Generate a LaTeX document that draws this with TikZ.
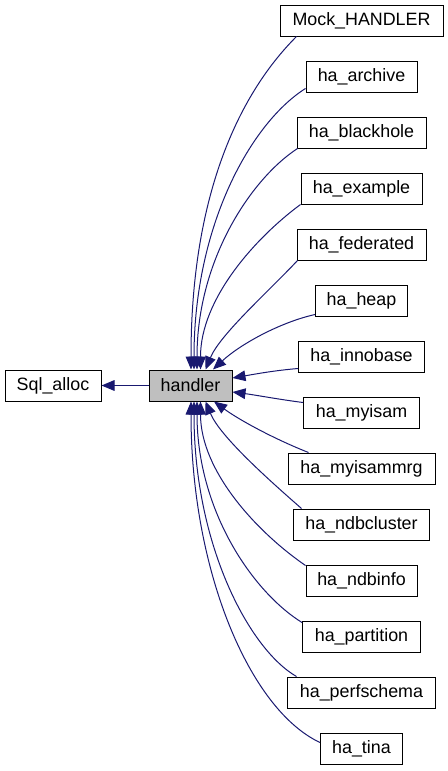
\documentclass[tikz,border=0pt]{standalone}
\usepackage{fontspec}
\setmainfont{Liberation Sans}
\usetikzlibrary{arrows.meta,calc}
\definecolor{edgeblue}{RGB}{25,25,112}
\definecolor{mainfill}{RGB}{191,191,191}
\tikzset{
  cls/.style={draw=black, line width=0.75pt, minimum height=23.25pt, inner sep=0pt,
    font=\fontsize{13.4}{16}\selectfont},
  mainbox/.style={cls, fill=mainfill},
  inh/.style={draw=edgeblue, line width=0.75pt,
    -{Triangle[length=9.75pt, width=8pt]}, fill=none},
  inhtip/.style={},
}
\begin{document}
\begin{tikzpicture}[x=0.75pt,y=-0.75pt]
\useasboundingbox (0,0) rectangle (448,771);
% main nodes
\node[cls, minimum width=72pt] (sql) at (53,385.5) {Sql\_alloc};
\node[mainbox, minimum width=62.25pt] (handler) at (190.5,385.5) {handler};
% derived classes
\node[cls, minimum width=122.25pt] (mock) at (361.5,20.5) {Mock\_HANDLER};
\node[cls, minimum width=83.25pt] (archive) at (361.5,76.5) {ha\_archive};
\node[cls, minimum width=96.75pt] (blackhole) at (361.5,132.5) {ha\_blackhole};
\node[cls, minimum width=90.75pt] (example) at (361.5,188.5) {ha\_example};
\node[cls, minimum width=96.75pt] (federated) at (361.5,244.5) {ha\_federated};
\node[cls, minimum width=69pt] (heap) at (361.5,300.5) {ha\_heap};
\node[cls, minimum width=94.5pt] (innobase) at (361.5,356.5) {ha\_innobase};
\node[cls, minimum width=87pt] (myisam) at (361.5,412.5) {ha\_myisam};
\node[cls, minimum width=110.25pt] (myisammrg) at (361.5,468.5) {ha\_myisammrg};
\node[cls, minimum width=102pt] (ndbcluster) at (361.5,524.5) {ha\_ndbcluster};
\node[cls, minimum width=83.25pt] (ndbinfo) at (361.5,580.5) {ha\_ndbinfo};
\node[cls, minimum width=88.5pt] (partition) at (361.5,636.5) {ha\_partition};
\node[cls, minimum width=111pt] (perfschema) at (361.5,692.5) {ha\_perfschema};
\node[cls, minimum width=61.5pt] (tina) at (361.5,748.5) {ha\_tina};
% edges
\draw[inh] (handler.west) -- (sql.east);
\draw[inh] ($(mock.south west)+(17,0)$) .. controls +(-60,60) and +(0,-170) .. ($(handler.north)+(0.5,0)$);
\draw[inh] ($(archive.south west)+(0,-4)$) .. controls +(-54,34) and +(0,-145) .. ($(handler.north)+(3.5,0)$);
\draw[inh] ($(blackhole.south west)+(1,0)$) .. controls +(-46,30) and +(0,-110) .. ($(handler.north)+(6.5,0)$);
\draw[inh] ($(example.south west)+(0,0)$) .. controls +(-46,34) and +(0,-70) .. ($(handler.north)+(10,0)$);
\draw[inh] ($(federated.south west)+(1,0)$) .. controls +(-28,30) and +(14.5,-35) .. ($(handler.north)+(15,0)$);
\draw[inh] ($(heap.south west)+(0,-2)$) .. controls +(-35.5,8) and +(27,-25) .. ($(handler.north)+(22.5,0)$);
\draw[inh] ($(innobase.south west)+(0,-4)$) .. controls +(-23.5,2) and +(23,-4) .. ($(handler.east)+(0,-7.5)$);
\draw[inh] ($(myisam.north west)+(0,6)$) .. controls +(-23.5,-3) and +(23,3) .. ($(handler.east)+(0,6.5)$);
\draw[inh] ($(myisammrg.north west)+(21,0)$) .. controls +(-33,-13) and +(26,19) .. ($(handler.south)+(23.5,0)$);
\draw[inh] ($(ndbcluster.north west)+(8.5,0)$) .. controls +(-32,-28) and +(14.5,35) .. ($(handler.south)+(15,0)$);
\draw[inh] ($(ndbinfo.north west)+(0,1)$) .. controls +(-48,-33) and +(0,70) .. ($(handler.south)+(10,0)$);
\draw[inh] ($(partition.north west)+(0,2)$) .. controls +(-48.5,-30) and +(0,110) .. ($(handler.south)+(6.5,0)$);
\draw[inh] ($(perfschema.north west)+(9.5,0)$) .. controls +(-47,-27) and +(0,144) .. ($(handler.south)+(3.5,0)$);
\draw[inh] ($(tina.north west)+(0,10)$) .. controls +(-70.5,-33) and +(0,169) .. ($(handler.south)+(0.5,0)$);
\end{tikzpicture}
\end{document}
